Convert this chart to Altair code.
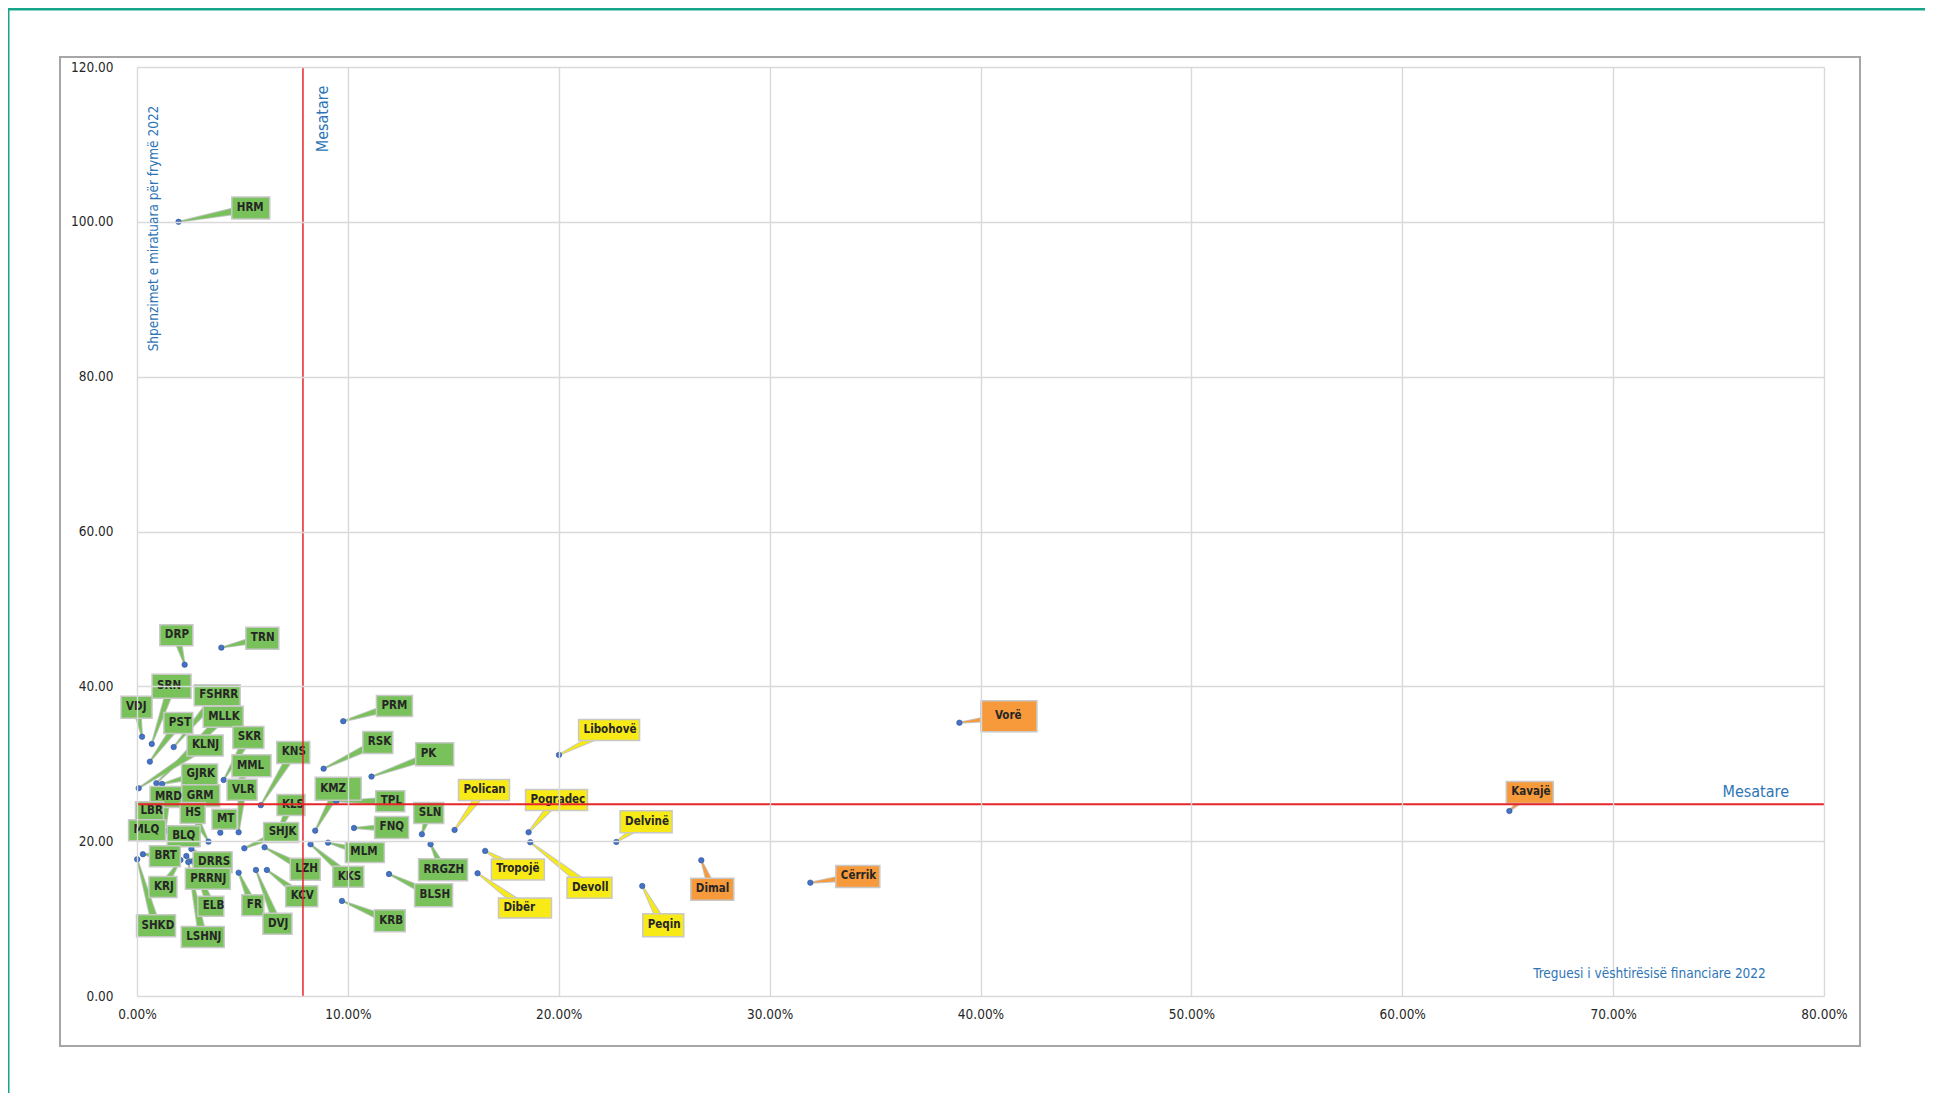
import altair as alt
import pandas as pd

# ---------------- data ----------------
names = ["HRM", "DRP", "TRN", "SRN", "VDJ", "PST", "FSHRR", "MLLK", "KLNJ", "SKR",
         "MML", "GJRK", "KNS", "VLR", "MRD", "GRM", "LBR", "HS", "MT", "MLQ",
         "BLQ", "KLS", "SHJK", "BRT", "DRRS", "PRRNJ", "KRJ", "ELB", "SHKD", "LSHNJ",
         "FR", "DVJ", "LZH", "KCV", "KKS", "MLM", "KMZ", "TPL", "FNQ", "SLN",
         "RRGZH", "BLSH", "KRB", "PRM", "RSK", "PK",
         "Libohovë", "Polican", "Pogradec", "Delvinë", "Devoll", "Tropojë", "Dibër", "Peqin",
         "Dimal", "Cërrik", "Vorë", "Kavajë"]

# financial difficulty indicator 2022 (%)
x_pct = [1.97, 2.26, 4.00, 0.70, 0.24, 0.61, 1.74, 0.92, 0.08, 4.11,
         4.52, 1.19, 5.87, 4.82, 1.34, 2.76, 0.63, 3.39, 3.95, 0.16,
         1.96, 6.60, 5.09, 0.28, 2.58, 2.34, 2.06, 2.67, 0.01, 2.43,
         4.82, 5.64, 6.05, 6.16, 8.23, 9.06, 8.45, 9.45, 10.29, 13.51,
         13.92, 11.95, 9.72, 9.78, 8.85, 11.12,
         20.01, 15.06, 18.57, 22.73, 18.65, 16.51, 16.15, 23.96,
         26.76, 31.93, 39.00, 65.08]

# approved expenditure per capita 2022
y_val = [100.0, 42.8, 45.0, 32.56, 33.5, 30.27, 32.15, 27.48, 26.84, 27.91,
         26.6, 27.39, 24.65, 21.15, 21.32, 20.4, 21.06, 19.94, 21.1, 20.4,
         19.38, 20.67, 19.08, 18.31, 18.99, 18.09, 17.57, 17.44, 17.66, 17.3,
         15.93, 16.28, 19.21, 16.28, 19.6, 19.81, 21.36, 25.16, 21.71, 20.89,
         19.6, 15.76, 12.28, 35.5, 29.37, 28.34,
         31.14, 21.45, 21.15, 19.9, 19.86, 18.74, 15.85, 14.21,
         17.53, 14.64, 35.3, 23.9]

group = ["Green"] * 46 + ["Yellow"] * 8 + ["Orange"] * 4

mean_x_pct = 7.87
mean_y = 24.77

x_ticks = [0.0, 0.1, 0.2, 0.3, 0.4, 0.5, 0.6, 0.7, 0.8]
y_ticks = [0, 20, 40, 60, 80, 100, 120]

# ---------------- label layout (pixels) ----------------
# offset of the callout box centre from its point, box width and height
lab_dx = [72.2, -8.3, 41, 19.8, -5.5, 28.5, 43.5, 66.8, 66.4, 24.7,
          19.2, 37.5, 32.5, 3.4, 0.8, 5.5, -0.8, -15.8, 4.2, 6.7,
          5.3, 14.8, 36.8, 22, 21.2, 21.5, -17.5, 17.5, 18.8, 14.5,
          14.2, 21.5, 40.7, 34.8, 37.7, 36.8, 23, 54, 37.6, 6.8,
          12.5, 44.6, 47.8, 51.2, 54.2, 63.2,
          50.1, 29.4, 27.9, 29.8, 59.2, 32.7, 47.4, 21,
          11, 47.5, 49.5, 20.4]
lab_dy = [-13.8, -29.5, -9.4, -57.7, -29.3, -38.7, -51.9, -66.6, -42.8, -42.5,
          -24.2, -9.5, -52.7, -42.6, -34, -42.2, -21.8, -28.7, -13.5, -7.7,
          -9.7, -31, -15.8, 2, 13.2, 22.7, 27, 45.2, 66.5, 75,
          32.6, 53.7, 21.9, 26.3, 32.4, 9.8, -42, 0, -0.5, -21.3,
          25.5, 21.3, 19.8, -15.1, -26.2, -22.4,
          -25, -40, -32.3, -20.3, 45.5, 18.5, 34.7, 39.3,
          28.9, -6.2, -6.5, -18.5]
lab_w = [38, 33, 33, 39, 31, 29, 46, 40, 36, 31,
         39, 36, 33, 30, 32, 38, 28, 25, 25, 37,
         33, 28, 35, 31, 39, 45, 28, 26, 39, 43,
         22, 29, 30, 32, 31, 39, 46, 29, 34, 30,
         49, 38, 31, 36, 30, 38,
         61, 51, 62, 52, 45, 53, 53, 41,
         43, 44, 56, 47]
lab_h = [22, 21, 22, 24, 22, 21, 21, 21, 21, 22,
         22, 21, 22, 21, 21, 22, 19, 21, 20, 21,
         21, 21, 20, 21, 21, 21, 21, 20, 22, 21,
         21, 21, 22, 21, 21, 20, 23, 21, 22, 21,
         22, 23, 22, 21, 22, 23,
         21, 21, 21, 22, 21, 21, 20, 23,
         22, 22, 31, 22]
lab_pad = {"Vorë": 14}

W, H = 1687, 929
XMAX, YMAX = 0.8, 120
kx = W / XMAX
ky = H / YMAX

FONT = "Liberation Sans Narrow, DejaVu Sans Condensed, Liberation Sans, sans-serif"
BLUE = "#2e75b6"

rows, wedge = [], []
for i, n in enumerate(names):
    x = x_pct[i] / 100.0
    y = y_val[i]
    cx = x + lab_dx[i] / kx
    cy = y - lab_dy[i] / ky
    hw = lab_w[i] / 2 / kx
    hh = lab_h[i] / 2 / ky
    pad = lab_pad.get(n, 5)
    rows.append(dict(name=n, grp=group[i], x=x, y=y, bx1=cx - hw, bx2=cx + hw,
                     by1=cy - hh, by2=cy + hh, tx=cx - hw + pad / kx, ty=cy))
    wedge.append(dict(name=n, grp=group[i], wx=cx, wy=cy, ord=0, wg=9.5, wc=7.5))
    wedge.append(dict(name=n, grp=group[i], wx=x, wy=y, ord=1, wg=2.0, wc=0.3))

df = pd.DataFrame(rows)
dw = pd.DataFrame(wedge)
dm = pd.DataFrame({"mx": [mean_x_pct / 100.0], "my": [mean_y], "t": ["Mesatare"]})
dummy = pd.DataFrame({"a": [0]})

XS = alt.Scale(domain=[0, XMAX], nice=False, zero=False)
YS = alt.Scale(domain=[0, YMAX], nice=False, zero=False)
AX = alt.Axis(values=x_ticks, format=".2%", title="Treguesi i vështirësisë financiare 2022",
              grid=True, gridColor="#d9d9d9", gridWidth=1.4, domain=False, ticks=False,
              labelFlush=False, labelOverlap=False,
              labelPadding=11, labelFont=FONT, labelFontSize=13.5, labelColor="#262626",
              titleX=1512, titleY=-23, titleAlign="center", titleBaseline="middle",
              titleFont=FONT, titleFontSize=13.5, titleFontWeight="normal", titleColor=BLUE,
              zindex=1)
AY = alt.Axis(values=y_ticks, format=".2f", title="Shpenzimet e miratuara për frymë 2022",
              grid=True, gridColor="#d9d9d9", gridWidth=1.4, domain=False, ticks=False,
              labelFlush=False, labelOverlap=False,
              labelPadding=24, labelFont=FONT, labelFontSize=13.5, labelColor="#262626",
              titleAngle=270, titleX=16, titleY=161, titleAlign="center", titleBaseline="middle",
              titleFont=FONT, titleFontSize=13.5, titleFontWeight="normal", titleColor=BLUE,
              zindex=1)


def X(f):
    return alt.X(f"{f}:Q", scale=XS, axis=AX)


def Y(f):
    return alt.Y(f"{f}:Q", scale=YS, axis=AY)


CS = alt.Scale(domain=["Green", "Yellow", "Orange"], range=["#79c25b", "#f7ea16", "#f79a3b"])

frame = alt.Chart(dummy).mark_rect(fillOpacity=0, stroke="#a6a6a6", strokeWidth=2).encode(
    x=alt.value(-77), x2=alt.value(1723), y=alt.value(-10), y2=alt.value(979))
teal_v = alt.Chart(dummy).mark_rule(color="#17a589", strokeWidth=3).encode(
    x=alt.value(-129), y=alt.value(-58), y2=alt.value(1030))
teal_h = alt.Chart(dummy).mark_rule(color="#17a589", strokeWidth=3).encode(
    x=alt.value(-129), x2=alt.value(1790), y=alt.value(-58))

wedge_g = alt.Chart(dw).mark_trail(color="#c4c4c4").encode(
    x=X("wx"), y=Y("wy"), size=alt.Size("wg:Q", scale=None, legend=None),
    detail="name:N", order="ord:Q")
wedge_c = alt.Chart(dw).mark_trail().encode(
    x=X("wx"), y=Y("wy"), size=alt.Size("wc:Q", scale=None, legend=None),
    color=alt.Color("grp:N", scale=CS, legend=None), detail="name:N", order="ord:Q")

dots = alt.Chart(df).mark_circle(size=30, color="#4472c4", opacity=1,
                                 stroke="#2f5597", strokeWidth=0.6).encode(x=X("x"), y=Y("y"))

boxes = alt.Chart(df).mark_rect(stroke="#c8c8c8", strokeWidth=1.5).encode(
    x=X("bx1"), x2="bx2", y=Y("by1"), y2="by2",
    color=alt.Color("grp:N", scale=CS, legend=None))

texts = alt.Chart(df).mark_text(align="left", baseline="middle", font=FONT, fontSize=11.5,
                                fontWeight="bold", color="#262626").encode(
    x=X("tx"), y=Y("ty"), text="name:N")

mean_v = alt.Chart(dm).mark_rule(color="#e8242b", strokeWidth=1.5).encode(x=X("mx"))
mean_h = alt.Chart(dm).mark_rule(color="#e8242b", strokeWidth=2).encode(y=Y("my"))

mes_v = alt.Chart(dm).mark_text(angle=270, align="center", baseline="middle", dy=20,
                                font=FONT, fontSize=16, color=BLUE).encode(
    x=X("mx"), y=alt.value(52), text="t:N")
mes_h = alt.Chart(dm).mark_text(align="right", baseline="middle", dy=-12,
                                font=FONT, fontSize=16, color=BLUE).encode(
    x=alt.value(1652), y=Y("my"), text="t:N")

chart = alt.layer(
    frame, teal_v, teal_h, wedge_g, wedge_c, dots, boxes, texts,
    mean_v, mean_h, mes_v, mes_h
).properties(
    width=W, height=H,
    autosize=alt.AutoSizeParams(type="none"),
    padding={"left": 129, "top": 59, "right": 101, "bottom": 97},
    background="white",
).configure_view(strokeWidth=0)

chart.save("out.html", embed_options={"renderer": "svg", "actions": False})
